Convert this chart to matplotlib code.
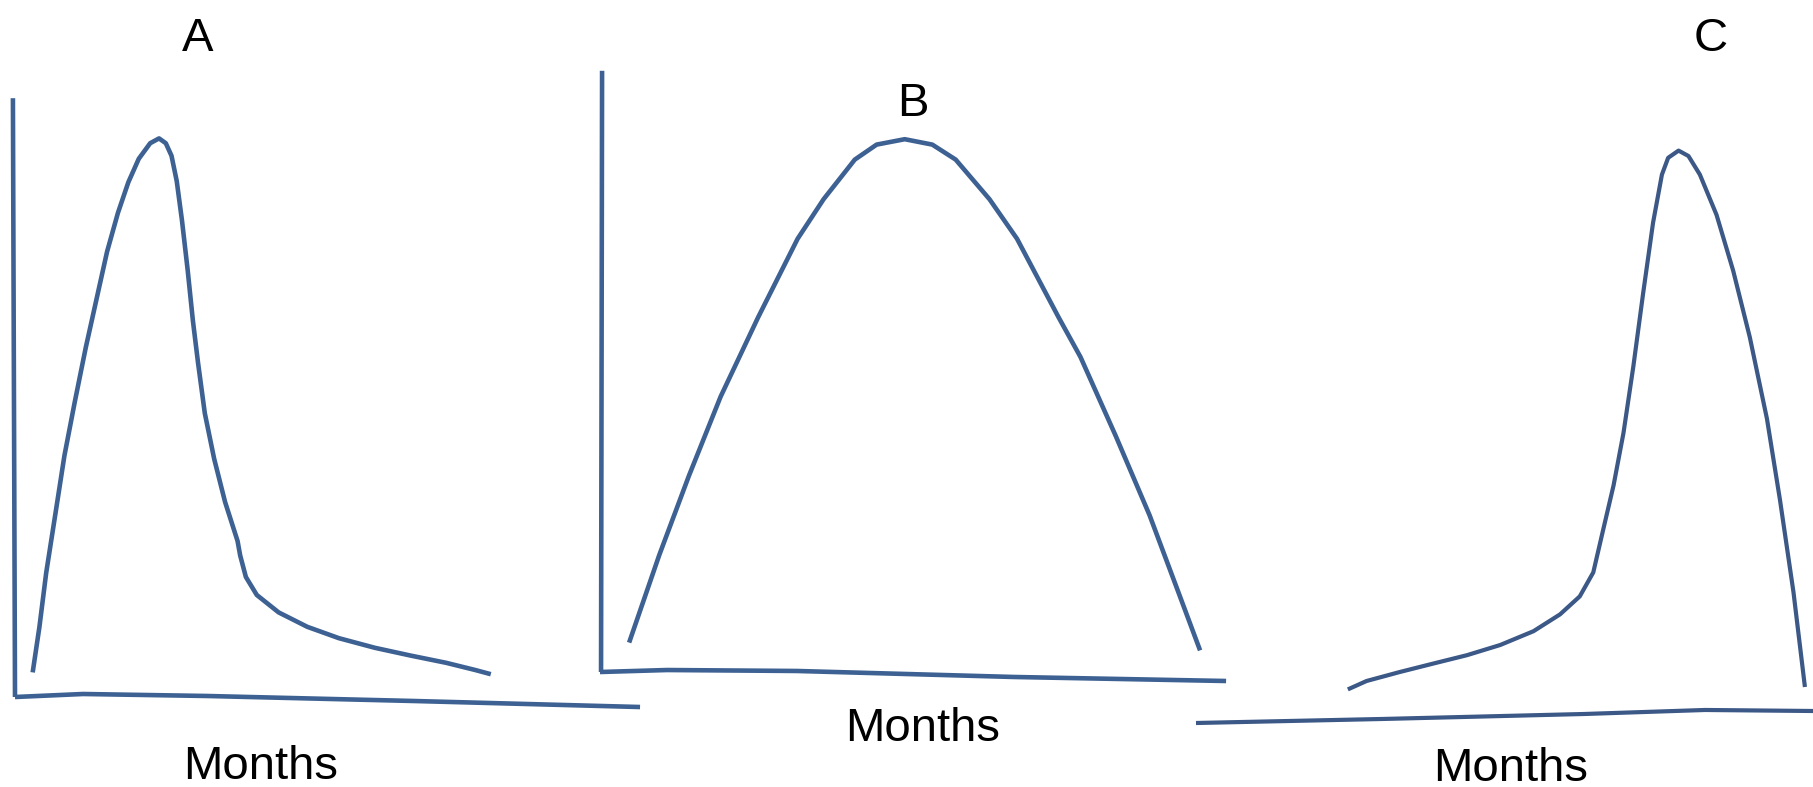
import matplotlib
matplotlib.use("Agg")
import matplotlib.pyplot as plt

plt.rcParams['font.family'] = ['Liberation Sans', 'DejaVu Sans']

# --- sketch data (x in months, y in relative level 0-100) ---
# panel A: early sharp peak, long tail
a_month = [0.34, 0.47, 0.60, 0.78, 0.95, 1.15, 1.36, 1.57, 1.77, 1.98, 2.18, 2.38,
           2.60, 2.77, 2.90, 3.01, 3.11, 3.21, 3.32, 3.42, 3.52, 3.65, 3.83, 4.04,
           4.28, 4.33, 4.44, 4.65, 5.07, 5.62, 6.23, 6.92, 7.61, 8.29, 8.85, 9.15]
a_level = [4.1, 11.7, 20.7, 30.7, 40.2, 49.2, 58.2, 66.4, 74.2, 80.7, 85.8, 89.7,
           92.3, 93.1, 92.3, 90.2, 86.0, 79.5, 71.2, 62.8, 55.7, 47.3, 39.7, 32.5,
           26.0, 23.6, 20.0, 17.0, 14.1, 11.7, 9.8, 8.2, 6.9, 5.7, 4.5, 3.8]
a_xaxis_m = [0, 1.31, 3.69, 7.69, 12.02]
a_xaxis_v = [0, 0.5, 0.17, -0.67, -1.67]
a_yaxis_m = [0, -0.04]
a_yaxis_v = [0, 99.8]

# panel B: symmetric hump
b_month = [0.56, 1.14, 1.71, 2.32, 3.04, 3.80, 4.30, 4.90, 5.32, 5.86, 6.39, 6.84,
           7.49, 8.02, 8.82, 9.24, 9.92, 10.57, 11.14, 11.54]
b_level = [4.9, 19.5, 32.7, 45.9, 59.1, 72.2, 78.8, 85.4, 87.9, 88.8, 87.9, 85.4,
           78.8, 72.2, 59.1, 52.5, 39.3, 26.1, 12.9, 3.6]
b_xaxis_m = [0, 1.29, 3.79, 7.96, 12.04]
b_xaxis_v = [0, 0.33, 0.17, -0.83, -1.5]
b_yaxis_m = [0.02, 0.04]
b_yaxis_v = [0, 100.2]

# panel C: slow build, late sharp peak
c_month = [2.92, 3.28, 3.92, 4.56, 5.21, 5.85, 6.49, 7.00, 7.38, 7.64, 7.83, 8.03,
           8.22, 8.41, 8.60, 8.79, 8.96, 9.08, 9.28, 9.47, 9.69, 10.01, 10.33, 10.65,
           10.98, 11.23, 11.49, 11.71]
c_level = [5.6, 7.0, 8.5, 9.9, 11.3, 13.0, 15.3, 18.1, 21.1, 25.1, 32.2, 39.6,
           48.3, 59.4, 71.7, 83.4, 91.4, 94.2, 95.4, 94.5, 91.4, 84.7, 75.4, 64.3,
           50.7, 37.2, 21.8, 6.0]
c_xaxis_m = [0, 3.58, 7.46, 9.79, 11.87]
c_xaxis_v = [0, 0.67, 1.5, 2.17, 2.0]

blue = '#3d6192'
blue_c = '#3b5886'

W, H = 1813, 787
fig = plt.figure(figsize=(W / 100, H / 100), dpi=100)
fig.patch.set_facecolor('white')


def panel(ox, oy):
    # origin of the sketch axes in pixels, 52 px per month, 6 px per level unit
    ax = fig.add_axes([ox / W, (H - oy) / H, 12 * 52 / W, 600 / H])
    ax.set_xlim(0, 12)
    ax.set_ylim(0, 100)
    ax.axis('off')
    return ax


def draw(ax, x, y, color, lw):
    ax.plot(x, y, color=color, lw=lw, clip_on=False,
            solid_capstyle='butt', solid_joinstyle='round')


axA = panel(15, 697)
draw(axA, a_yaxis_m, a_yaxis_v, blue, 3.3)
draw(axA, a_xaxis_m, a_xaxis_v, blue, 3.3)
draw(axA, a_month, a_level, blue, 3.3)
axA.text(3.52, 109.7, 'A', fontsize=34, ha='center', va='center')
axA.text(4.73, -11.7, 'Months', fontsize=34, ha='center', va='center')

axB = panel(600, 672)
draw(axB, b_yaxis_m, b_yaxis_v, blue, 3.3)
draw(axB, b_xaxis_m, b_xaxis_v, blue, 3.3)
draw(axB, b_month, b_level, blue, 3.3)
axB.text(6.02, 94.6, 'B', fontsize=34, ha='center', va='center')
axB.text(6.21, -9.5, 'Months', fontsize=34, ha='center', va='center')

axC = panel(1196, 723)
draw(axC, c_xaxis_m, c_xaxis_v, blue_c, 3.0)
draw(axC, c_month, c_level, blue_c, 3.0)
axC.text(9.9, 114, 'C', fontsize=34, ha='center', va='center')
axC.text(6.06, -7.6, 'Months', fontsize=34, ha='center', va='center')

fig.savefig('out.png', dpi=100, facecolor='white')
